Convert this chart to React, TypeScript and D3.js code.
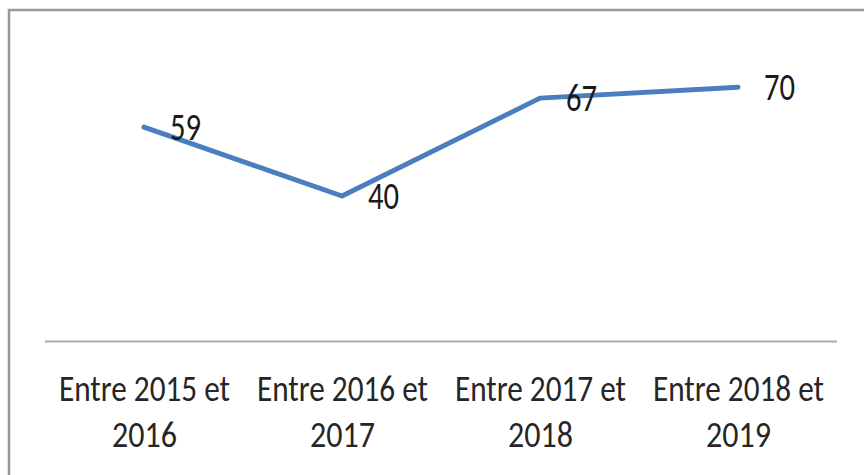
import React from "react";
import * as d3 from "d3";

const categoriesLine1 = ["Entre 2015 et", "Entre 2016 et", "Entre 2017 et", "Entre 2018 et"];
const categoriesLine2 = ["2016", "2017", "2018", "2019"];
const values = [59, 40, 67, 70];

const W = 864;
const H = 475;
const FONT = "Carlito, 'Liberation Sans Narrow', 'Liberation Sans', Arial, sans-serif";

export default function App() {
  const x = d3.scalePoint<number>().domain(d3.range(values.length)).range([45, 837]).padding(0.5);
  const y = d3.scaleLinear().domain([0, 80]).range([341, 51]);
  const line = d3
    .line<number>()
    .x((_, i) => x(i) as number)
    .y((d) => y(d));

  return (
    <svg
      width={W}
      height={H}
      style={{ position: "absolute", left: 0, top: 0, background: "#fff" }}
    >
      <rect x={0} y={0} width={W} height={H} fill="#fff" />
      <path d={`M9,${H + 2}V10H${W + 2}`} fill="none" stroke="#999" strokeWidth={2.5} />
      <line x1={45} x2={837} y1={341.5} y2={341.5} stroke="#aaa" strokeWidth={2} />
      <path
        d={line(values) || ""}
        fill="none"
        stroke="#4a7ebf"
        strokeWidth={5}
        strokeLinecap="round"
        strokeLinejoin="round"
      />
      {values.map((v, i) => (
        <text
          key={"v" + i}
          x={(x(i) as number) + 26}
          y={y(v) + 13}
          fontFamily={FONT}
          fontSize={38}
          fill="#1a1a1a"
          textLength={31}
          lengthAdjust="spacingAndGlyphs"
        >
          {v}
        </text>
      ))}
      {categoriesLine1.map((c, i) => (
        <g key={"c" + i}>
          <text
            x={(x(i) as number) - 85}
            y={401}
            fontFamily={FONT}
            fontSize={37}
            fill="#262626"
            textLength={171}
            lengthAdjust="spacingAndGlyphs"
          >
            {c}
          </text>
          <text
            x={(x(i) as number) - 32}
            y={447}
            fontFamily={FONT}
            fontSize={37}
            fill="#262626"
            textLength={65}
            lengthAdjust="spacingAndGlyphs"
          >
            {categoriesLine2[i]}
          </text>
        </g>
      ))}
    </svg>
  );
}
